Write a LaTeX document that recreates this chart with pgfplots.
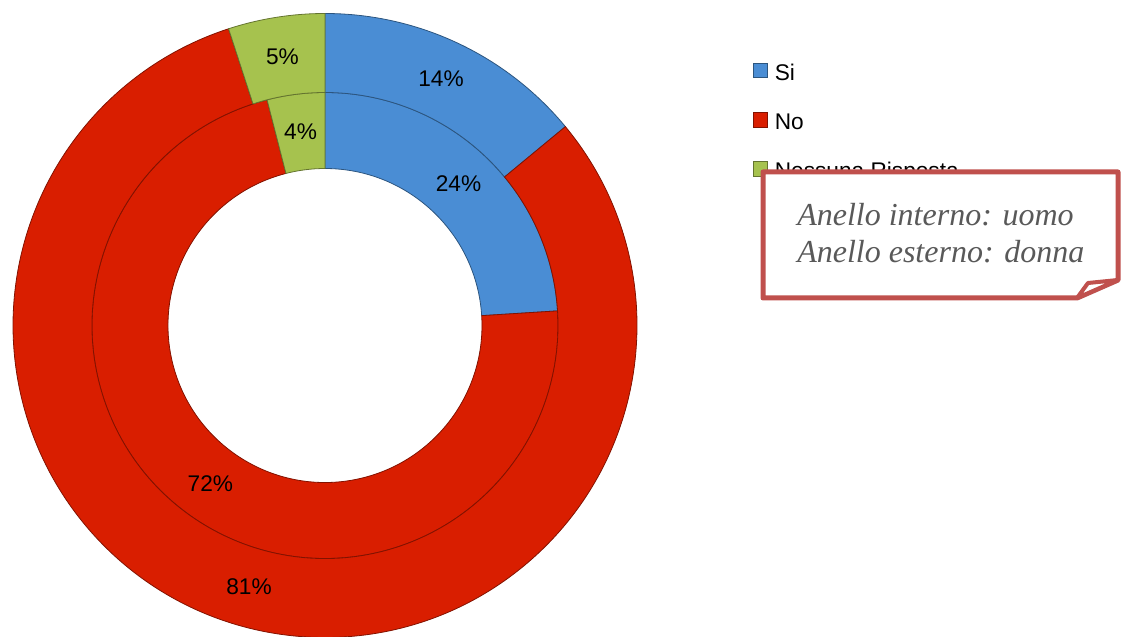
\documentclass[border=0pt]{standalone}
\usepackage{pgfplots}
\pgfplotsset{compat=1.18}
\usepackage{pgfplotstable}
\usetikzlibrary{shadows}
\usepackage{fontspec}
\setmainfont{Liberation Sans}
\newfontfamily\notefont{Liberation Serif}

\definecolor{siblue}{RGB}{74,141,212}
\definecolor{nored}{RGB}{217,30,0}
\definecolor{nrgreen}{RGB}{166,194,78}
\definecolor{boxred}{RGB}{192,80,77}
\definecolor{notegray}{RGB}{89,89,89}

\newcommand\lblfont{\fontsize{17}{20}\selectfont}

% anello interno: uomo
\pgfplotstableread{
label value col
Si 24 siblue
No 72 nored
NR 4  nrgreen
}\uomo
% anello esterno: donna
\pgfplotstableread{
label value col
Si 14 siblue
No 81 nored
NR 5  nrgreen
}\donna

% one ring from a table: #1 table, #2 inner radius, #3 outer radius (pt)
\newcommand\ring[3]{%
  \pgfplotstablegetrowsof{#1}%
  \pgfmathtruncatemacro\nlast{\pgfplotsretval-1}%
  \def\cum{0}%
  \pgfplotsforeachungrouped \k in {0,...,\nlast}{%
    \pgfplotstablegetelem{\k}{value}\of{#1}\let\val\pgfplotsretval
    \pgfplotstablegetelem{\k}{col}\of{#1}\let\col\pgfplotsretval
    \pgfmathsetmacro\angA{90-3.6*\cum}%
    \pgfmathsetmacro\angB{90-3.6*(\cum+\val)}%
    \pgfmathsetmacro\angM{(\angA+\angB)/2}%
    \pgfmathsetmacro\rmid{(#2+#3)/2}%
    \pgfmathsetmacro\dr{#3-#2}%
    \pgfmathsetmacro\cum{\cum+\val}%
    \edef\seg{%
      \noexpand\filldraw[fill=\col, draw=\col!60!black, line width=0.6pt]
        (axis cs:325,310.5) ++(\angA:#3pt) arc[start angle=\angA, end angle=\angB, radius=#3pt]
        -- ++(\angB+180:\dr pt) arc[start angle=\angB, end angle=\angA, radius=#2pt] -- cycle;
      \noexpand\path (axis cs:325,310.5) ++(\angM:\rmid pt)
        node[font=\noexpand\lblfont] {\val\noexpand\%};
    }\seg
  }%
}

\begin{document}
\begin{tikzpicture}
\begin{axis}[
  width=840.75pt, height=477pt, scale only axis,
  xmin=0, xmax=1121, ymin=0, ymax=636,
  hide axis,
  legend cell align=left,
  legend style={at={(axis cs:753,573.5)}, anchor=north west,
    draw=none, fill=none, inner sep=0pt, row sep=19.9pt,
    nodes={inner sep=0pt, text height=12.5pt, text depth=4pt, font=\lblfont},
    /tikz/every odd column/.append style={column sep=5.25pt}},
  legend image code/.code={\filldraw[#1] (0pt,-2.5pt) rectangle (10.5pt,8.5pt);},
]
\path (rel axis cs:0,0) rectangle (rel axis cs:1,1);
\ring{\uomo}{117.75}{174.75}
\ring{\donna}{174.75}{234}
\addlegendimage{fill=siblue, draw=siblue!60!black}
\addlegendimage{fill=nored, draw=nored!60!black}
\addlegendimage{fill=nrgreen, draw=nrgreen!60!black}
\legend{Si, No, Nessuna Risposta}
\coordinate (b1) at (axis cs:763,464);
\coordinate (b2) at (axis cs:1118,464);
\coordinate (b3) at (axis cs:1118,356);
\coordinate (b4) at (axis cs:1077,338);
\coordinate (b5) at (axis cs:763,338);
\coordinate (b6) at (axis cs:1088,353);
\coordinate (t1) at (axis cs:797,410);
\coordinate (t2) at (axis cs:797,373);
\end{axis}
\filldraw[fill=white, draw=boxred, line width=3.75pt, line join=round,
  drop shadow={opacity=0.2, shadow xshift=1.5pt, shadow yshift=-1.5pt}]
  (b1) -- (b2) -- (b3) -- (b4) -- (b5) -- cycle;
\filldraw[fill=white, draw=boxred, line width=3pt, line join=round] (b4) -- (b6) -- (b3) -- cycle;
\node[anchor=base west, inner sep=0pt, text=notegray, font=\notefont\itshape\fontsize{24}{28}\selectfont] at (t1) {Anello interno: uomo};
\node[anchor=base west, inner sep=0pt, text=notegray, font=\notefont\itshape\fontsize{24}{28}\selectfont] at (t2) {Anello esterno: donna};
\end{tikzpicture}
\end{document}
